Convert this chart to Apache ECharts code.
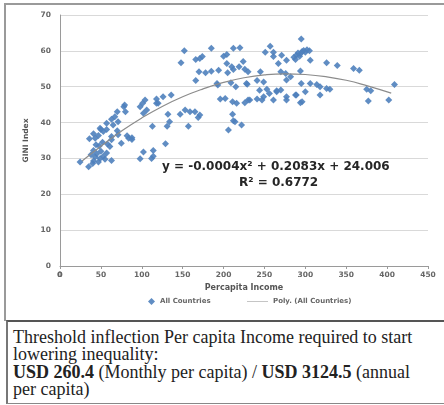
<!DOCTYPE html>
<html>
<head>
<meta charset="utf-8">
<script src="https://cdn.jsdelivr.net/npm/echarts@6/dist/echarts.min.js"></script>
<style>
  html, body { margin: 0; padding: 0; background: #fff; }
  #wrap { position: relative; width: 444px; height: 405px; overflow: hidden; }
  #frame { position: absolute; left: 4px; top: 3px; width: 445px; height: 318px;
           border-top: 2px solid #9a9a9a; border-left: 2px solid #9a9a9a; box-sizing: border-box; }
  #chart { position: absolute; left: 0; top: 0; width: 444px; height: 320px; }
  #zero { position: absolute; left: 57px; top: 270px; z-index: 5;
          font: bold 7.5px "DejaVu Sans", sans-serif; color: #666; line-height: 9px; }
  #note { position: absolute; left: 6px; top: 320px; width: 450px; height: 84px;
          border-top: 2px solid #555; border-left: 2px solid #777; border-bottom: 1px solid #888;
          box-sizing: border-box; padding: 7px 0 0 5px;
          font-family: "Liberation Serif", "DejaVu Serif", serif; font-size: 18px; line-height: 17.4px; color: #222; }
</style>
</head>
<body>
<div id="wrap">
  <div id="frame"></div>
  <div id="chart"></div>
  <div id="zero">0</div>
  <div id="note">Threshold inflection Per capita Income required to start<br>lowering inequality:<br><b>USD 260.4</b> (Monthly per capita) / <b>USD 3124.5</b> (annual<br>per capita)</div>
</div>
<script>
// per capita income (x) and GINI index (y)
const incomeX = [
  152, 148, 185, 171, 174, 166, 204, 200, 212, 220, 257, 251, 261, 295,
  286, 289, 291, 293, 296, 298, 300, 302, 305, 288, 294,
  306, 326, 339, 359, 366, 409, 375, 380, 377, 402,
  170, 178, 185, 194, 205, 212, 219, 226, 230, 245, 270, 276, 282, 294,
  204, 210, 224, 261, 271, 267, 277,
  166, 193, 209, 215, 229, 241, 249, 277, 295, 300, 306, 314, 318, 326, 330, 318, 192, 228,
  244, 253, 256, 265, 270, 277, 288, 294, 261, 247, 241, 230, 226, 202, 196, 211, 216,
  232, 249, 265, 277, 289, 296,
  136, 126, 118, 104, 101, 106, 98, 113, 131, 134, 132, 147, 153, 159, 165, 171, 169, 157,
  211, 212, 222, 206, 214, 120, 102, 118,
  78, 80, 70, 67, 63, 57, 65, 70, 50, 57, 79, 71, 49, 43, 63, 75, 84, 53,
  24.5, 35, 41, 47, 41, 45, 43, 41, 47, 53, 57, 61, 63, 71, 82, 88, 63,
  98, 102, 114, 114, 129, 112, 88,
  48, 50, 52, 38, 44, 55, 36, 40, 49, 58
];
const giniY = [
  60.0, 56.7, 60.7, 57.9, 58.4, 57.6, 59.0, 58.5, 60.7, 60.9, 61.3, 59.6, 59.6, 63.3,
  58.2, 58.8, 59.4, 58.5, 59.8, 60.1, 59.6, 60.3, 60.0, 57.6, 59.2,
  57.4, 56.7, 55.9, 55.1, 54.6, 50.6, 49.3, 48.9, 46.0, 46.3,
  54.2, 53.9, 54.3, 54.6, 53.9, 54.8, 55.6, 54.9, 54.2, 54.2, 54.2, 53.7, 52.8, 54.4,
  56.5, 55.6, 57.0, 58.4, 58.8, 56.5, 57.4,
  51.7, 50.5, 51.1, 50.0, 50.7, 51.7, 51.3, 51.9, 50.9, 48.6, 50.9, 50.6, 50.0, 49.5, 49.3, 47.7, 50.9, 50.9,
  49.0, 49.3, 48.1, 48.9, 49.1, 47.2, 47.7, 45.5, 46.3, 46.3, 46.6, 46.3, 45.5, 46.7, 46.6, 45.8, 45.4,
  46.3, 47.2, 48.6, 46.3, 47.7, 45.8,
  47.7, 47.2, 46.6, 46.3, 45.4, 43.5, 44.4, 39.0, 39.0, 40.2, 42.3, 42.3, 43.5, 43.0, 43.0, 42.1, 41.4, 39.0,
  42.3, 40.5, 39.3, 37.9, 40.2, 45.4, 42.6, 45.4,
  44.4, 43.0, 43.0, 41.6, 40.9, 39.8, 39.3, 37.7, 38.1, 38.1, 44.9, 40.2, 38.4, 35.6, 36.1, 34.2, 35.6, 37.5,
  29.0, 27.7, 36.9, 36.4, 32.2, 31.3, 30.4, 29.3, 29.0, 30.6, 31.5, 33.3, 35.2, 36.6, 36.3, 35.8, 29.4,
  29.9, 31.8, 32.2, 30.6, 34.1, 30.0, 35.3,
  33.5, 32.0, 34.5, 31.0, 33.8, 29.8, 35.5, 28.6, 30.0, 34.0
];
// polynomial trend line
const trendX = [27, 50, 75, 100, 125, 150, 175, 200, 225, 250, 275, 300, 325, 350, 375, 405];
const trendY = [29.3, 33.4, 37.6, 41.3, 44.5, 47.2, 49.4, 51.2, 52.5, 53.3, 53.6, 53.4, 52.8, 51.8, 50.3, 48.2];

const font = '"DejaVu Sans", sans-serif';
const gray = '#666';
const legendText = { fontFamily: font, fontSize: 7, color: gray, fontWeight: 'bold' };

const chart = echarts.init(document.getElementById('chart'));
chart.setOption({
  animation: false,
  grid: { left: 60, top: 15, width: 368, height: 251 },
  legend: [
    { left: 143, top: 293, itemWidth: 7, itemHeight: 7, textStyle: legendText,
      data: [{ name: 'All Countries', icon: 'diamond', itemStyle: { color: '#4f81bd' } }] },
    { left: 242, top: 293, itemWidth: 21, itemHeight: 7, textStyle: legendText,
      data: [{ name: 'Poly. (All Countries)', icon: 'path://M0,3.3 H21 V3.8 H0 Z M0,0 H0.01 V7 H0 Z',
               itemStyle: { color: '#8c8c8c' } }] }
  ],
  xAxis: {
    type: 'value', min: 0, max: 450, interval: 50,
    name: 'Percapita Income', nameLocation: 'middle', nameGap: 16,
    nameTextStyle: { fontFamily: font, fontSize: 8, fontWeight: 'bold', color: '#555' },
    axisLine: { lineStyle: { color: '#9a9a9a' } },
    axisTick: { show: true, length: 3, lineStyle: { color: '#9a9a9a' } },
    axisLabel: { fontFamily: font, fontSize: 7.5, color: gray, fontWeight: 'bold', margin: 5,
                 showMinLabel: true, hideOverlap: false },
    splitLine: { show: false }
  },
  yAxis: {
    type: 'value', min: 0, max: 70, interval: 10,
    name: 'GINI Index', nameLocation: 'middle', nameGap: 23, nameRotate: 90,
    nameTextStyle: { fontFamily: font, fontSize: 7.5, fontWeight: 'bold', color: '#555' },
    axisLine: { show: true, lineStyle: { color: '#9a9a9a' } },
    axisTick: { show: false },
    axisLabel: { fontFamily: font, fontSize: 7.5, color: gray, fontWeight: 'bold', margin: 9 },
    splitLine: { lineStyle: { color: '#d9d9d9', width: 1 } }
  },
  graphic: [
    { type: 'text', left: 162, top: 161,
      style: { text: 'y = -0.0004x\u00b2 + 0.2083x + 24.006', font: 'bold 12px "DejaVu Sans", sans-serif', fill: '#262626' } },
    { type: 'text', left: 239, top: 177,
      style: { text: 'R\u00b2 = 0.6772', font: 'bold 12px "DejaVu Sans", sans-serif', fill: '#262626' } }
  ],
  series: [
    {
      name: 'All Countries', type: 'scatter', symbol: 'diamond', symbolSize: 7,
      itemStyle: { color: '#4f81bd', opacity: 0.9 },
      data: incomeX.map((x, i) => [x, giniY[i]]),
      z: 2
    },
    {
      name: 'Poly. (All Countries)', type: 'line', smooth: true, symbol: 'none',
      lineStyle: { color: '#8c8c8c', width: 1.2 },
      data: trendX.map((x, i) => [x, trendY[i]]),
      z: 3
    }
  ]
});
</script>
</body>
</html>
